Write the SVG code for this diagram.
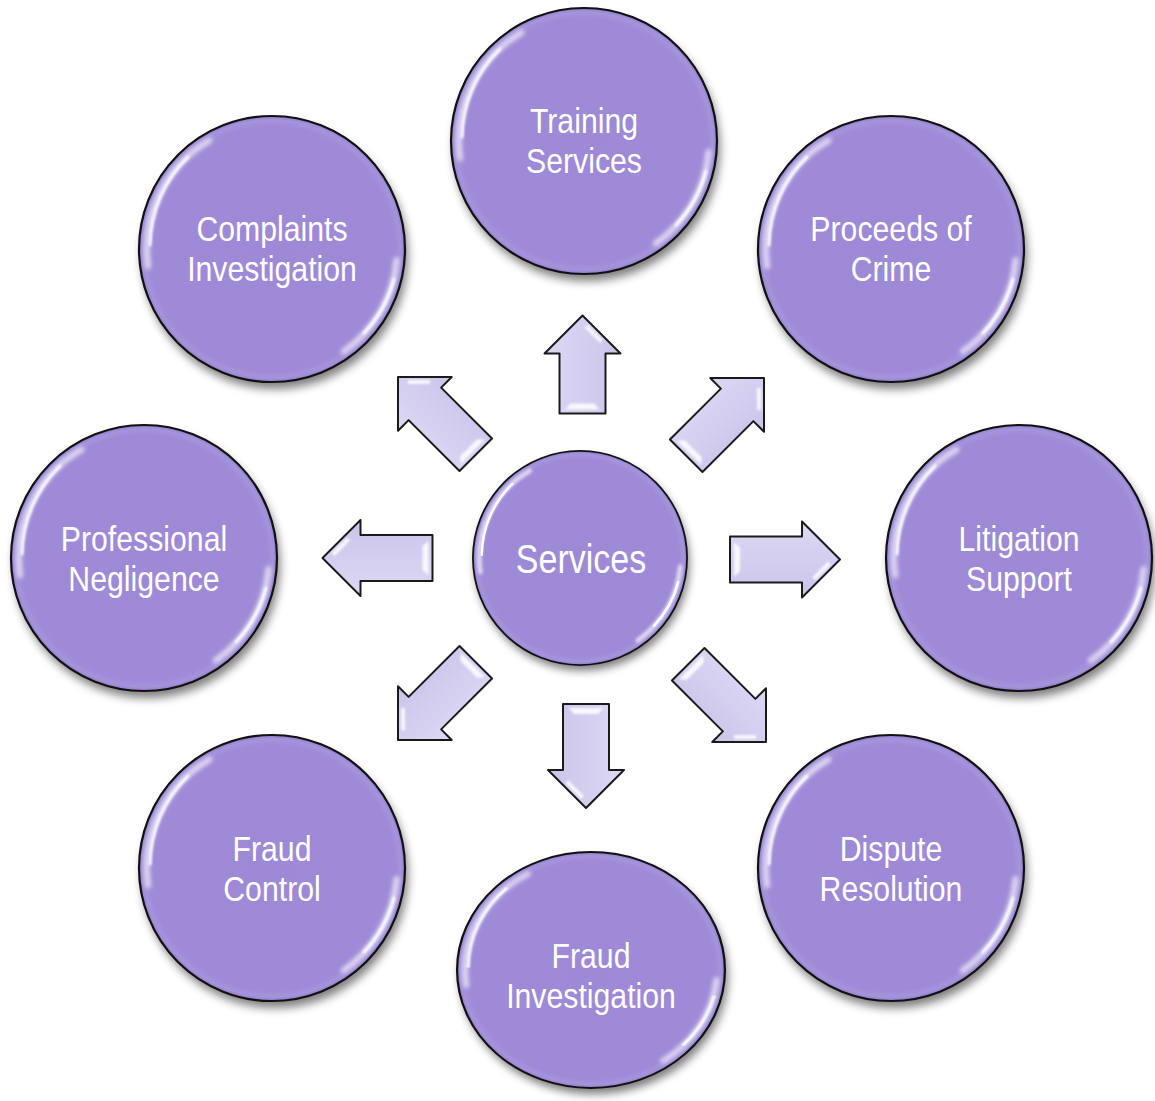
<svg xmlns="http://www.w3.org/2000/svg" xmlns:xlink="http://www.w3.org/1999/xlink" width="1155" height="1101" viewBox="0 0 1155 1101">
<style>
.lbl{font-family:"Liberation Sans",Arial,sans-serif;fill:#ffffff;text-anchor:middle;font-size:36px}
.big{font-size:40px}
.arr{fill:url(#arrFill);stroke:#1a1a1a;stroke-width:2;stroke-linejoin:round}
.hl{fill:#ffffff;opacity:0.85;filter:url(#soft)}
</style>
<defs>
<filter id="shadow" x="-20%" y="-20%" width="150%" height="150%">
<feGaussianBlur stdDeviation="5"/>
</filter>
<filter id="glow" x="-20%" y="-20%" width="140%" height="140%">
<feGaussianBlur stdDeviation="2.2"/>
</filter>
<filter id="soft" x="-50%" y="-50%" width="200%" height="200%">
<feGaussianBlur stdDeviation="0.8"/>
</filter>
<radialGradient id="bubFill" cx="50%" cy="50%" r="50%">
<stop offset="0" stop-color="#9d89d6"/>
<stop offset="0.92" stop-color="#9e8ad7"/>
<stop offset="0.97" stop-color="#a594db"/>
<stop offset="1" stop-color="#8f7bcb"/>
</radialGradient>
<linearGradient id="arrFill" x1="0" y1="0" x2="0" y2="1">
<stop offset="0" stop-color="#ddd8f4"/>
<stop offset="1" stop-color="#cbc4eb"/>
</linearGradient>
<g id="bubble">
<circle cx="3" cy="7" r="133" fill="#000" opacity="0.5" filter="url(#shadow)"/>
<circle r="133" fill="url(#bubFill)"/>
<path d="M -123.8 17.4 A 125 125 0 0 1 -62.5 -108.3" fill="none" stroke="#fff" stroke-width="6" stroke-linecap="round" opacity="0.65" filter="url(#glow)"/>
<path d="M -122 -4 A 125 125 0 0 1 -84 -92" fill="none" stroke="#fff" stroke-width="3" stroke-linecap="round" opacity="0.95" filter="url(#soft)"/>
<path d="M 124.5 10.9 A 125 125 0 0 1 71.7 102.4" fill="none" stroke="#fff" stroke-width="6" stroke-linecap="round" opacity="0.65" filter="url(#glow)"/>
<path d="M 122 30 A 125 125 0 0 1 92 84" fill="none" stroke="#fff" stroke-width="3" stroke-linecap="round" opacity="0.95" filter="url(#soft)"/>
<circle r="133" fill="none" stroke="#111" stroke-width="2.2"/>
</g>
<g id="headHl">
<polygon class="hl" points="-9.2,4.9 -24.7,20.5 -27.6,17.7 -12,2.1"/>
</g>
</defs>

<g id="connectors">
<g id="arrow-right" transform="translate(840,559.5)">
<path class="arr" d="M0,0 L-38,-38 L-38,-23 L-110,-23 L-110,23 L-38,23 L-38,38 Z"/>
<use xlink:href="#headHl"/>
<polygon class="hl" points="-106,-17 -100,-12 -100,12 -106,17"/>
</g>
<g id="arrow-left" transform="translate(322.5,558) rotate(180)">
<path class="arr" d="M0,0 L-38,-38 L-38,-23 L-110,-23 L-110,23 L-38,23 L-38,38 Z"/>
<use xlink:href="#headHl"/>
<polygon class="hl" points="-106,-17 -100,-12 -100,12 -106,17"/>
</g>
<g id="arrow-up" transform="translate(582.5,315.5) rotate(-90)">
<path class="arr" d="M0,0 L-38,-38 L-38,-23 L-98,-23 L-98,23 L-38,23 L-38,38 Z"/>
<use xlink:href="#headHl"/>
<polygon class="hl" points="-94,-17 -88,-12 -88,12 -94,17"/>
</g>
<g id="arrow-down" transform="translate(586,808) rotate(90)">
<path class="arr" d="M0,0 L-38,-38 L-38,-23 L-104,-23 L-104,23 L-38,23 L-38,38 Z"/>
<use xlink:href="#headHl"/>
<polygon class="hl" points="-100,-17 -94,-12 -94,12 -100,17"/>
</g>
<g id="arrow-ne" transform="translate(764,378) rotate(-45)">
<path class="arr" d="M0,0 L-38,-38 L-38,-23 L-110,-23 L-110,23 L-38,23 L-38,38 Z"/>
<use xlink:href="#headHl"/>
<polygon class="hl" points="-106,-17 -100,-12 -100,12 -106,17"/>
</g>
<g id="arrow-nw" transform="translate(398,377) rotate(-135)">
<path class="arr" d="M0,0 L-38,-38 L-38,-23 L-110,-23 L-110,23 L-38,23 L-38,38 Z"/>
<use xlink:href="#headHl"/>
<polygon class="hl" points="-106,-17 -100,-12 -100,12 -106,17"/>
</g>
<g id="arrow-sw" transform="translate(398,740) rotate(135)">
<path class="arr" d="M0,0 L-38,-38 L-38,-23 L-110,-23 L-110,23 L-38,23 L-38,38 Z"/>
<use xlink:href="#headHl"/>
<polygon class="hl" points="-106,-17 -100,-12 -100,12 -106,17"/>
</g>
<g id="arrow-se" transform="translate(766,742) rotate(45)">
<path class="arr" d="M0,0 L-38,-38 L-38,-23 L-110,-23 L-110,23 L-38,23 L-38,38 Z"/>
<use xlink:href="#headHl"/>
<polygon class="hl" points="-106,-17 -100,-12 -100,12 -106,17"/>
</g>
</g>

<g id="node-training">
<use xlink:href="#bubble" transform="translate(584,141)"/>
<text class="lbl" transform="translate(584,133) scale(0.84,1)">Training</text>
<text class="lbl" transform="translate(584,173) scale(0.84,1)">Services</text>
</g>
<g id="node-complaints">
<use xlink:href="#bubble" transform="translate(272,249)"/>
<text class="lbl" transform="translate(272,241) scale(0.84,1)">Complaints</text>
<text class="lbl" transform="translate(272,281) scale(0.84,1)">Investigation</text>
</g>
<g id="node-proceeds">
<use xlink:href="#bubble" transform="translate(891,249)"/>
<text class="lbl" transform="translate(891,241) scale(0.84,1)">Proceeds of</text>
<text class="lbl" transform="translate(891,281) scale(0.84,1)">Crime</text>
</g>
<g id="node-professional">
<use xlink:href="#bubble" transform="translate(144,558)"/>
<text class="lbl" transform="translate(144,551) scale(0.84,1)">Professional</text>
<text class="lbl" transform="translate(144,591) scale(0.84,1)">Negligence</text>
</g>
<g id="node-litigation">
<use xlink:href="#bubble" transform="translate(1019,558)"/>
<text class="lbl" transform="translate(1019,551) scale(0.84,1)">Litigation</text>
<text class="lbl" transform="translate(1019,591) scale(0.84,1)">Support</text>
</g>
<g id="node-fraud-control">
<use xlink:href="#bubble" transform="translate(272,868)"/>
<text class="lbl" transform="translate(272,861) scale(0.84,1)">Fraud</text>
<text class="lbl" transform="translate(272,901) scale(0.84,1)">Control</text>
</g>
<g id="node-dispute">
<use xlink:href="#bubble" transform="translate(891,868)"/>
<text class="lbl" transform="translate(891,861) scale(0.84,1)">Dispute</text>
<text class="lbl" transform="translate(891,901) scale(0.84,1)">Resolution</text>
</g>
<g id="node-fraud-investigation">
<use xlink:href="#bubble" transform="translate(591,970) scale(1.007,0.887)"/>
<text class="lbl" transform="translate(591,968) scale(0.84,1)">Fraud</text>
<text class="lbl" transform="translate(591,1008) scale(0.84,1)">Investigation</text>
</g>
<g id="node-services">
<use xlink:href="#bubble" transform="translate(580,558) scale(0.805)"/>
<text class="lbl big" transform="translate(581,573) scale(0.85,1)">Services</text>
</g>
</svg>
